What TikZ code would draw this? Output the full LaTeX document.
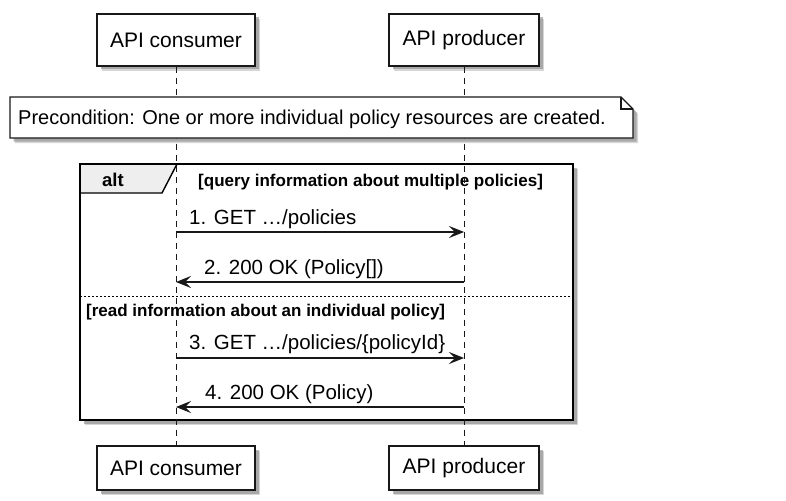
\documentclass[tikz,border=0pt]{standalone}
\usepackage{fontspec}
\setmainfont{Liberation Sans}
\usetikzlibrary{arrows.meta,shadows}
\definecolor{umlline}{HTML}{181818}
\definecolor{umlshadow}{HTML}{8A8A8A}
\definecolor{tabfill}{HTML}{EEEEEE}
\tikzset{
  umlshade/.style={drop shadow={shadow xshift=5pt,shadow yshift=-5pt,fill=umlshadow,opacity=0.35},
    drop shadow={shadow xshift=3.5pt,shadow yshift=-3.5pt,fill=umlshadow,opacity=0.6}},
  actorbox/.style={draw=umlline,fill=white,line width=1.2pt,inner sep=0pt,
    font=\fontsize{21}{25}\selectfont,umlshade},
  lifeline/.style={draw=umlline,line width=0.9pt,dash pattern=on 6pt off 5pt},
  msg/.style={draw=umlline,line width=1.2pt,-{Stealth[length=15pt,width=12pt,inset=6pt]}},
  msgtext/.style={anchor=west,inner sep=0pt,font=\fontsize{20.5}{24}\selectfont},
  guardtext/.style={anchor=west,inner sep=0pt,font=\bfseries\fontsize{17}{20}\selectfont},
}
\begin{document}
\begin{tikzpicture}[x=1pt,y=-1pt]
    \useasboundingbox (0,0) rectangle (786,500);

    % alt frame
    \draw[draw=black,fill=white,line width=2.8pt,umlshade] (80,164) rectangle (573,420);
    \draw[fill=tabfill,line width=1.4pt] (80,164) -- (177,164) -- (162,193) -- (80,193) -- cycle;
    \draw[draw=black,line width=2.8pt] (80,164) rectangle (573,420);
    \node[guardtext,font=\bfseries\fontsize{18.5}{22}\selectfont] (altlabel) at (102,180) {alt};
    \node[guardtext] (guardA) at (198,182) {[query information about multiple policies]};
    \draw[line width=0.8pt,dash pattern=on 2pt off 2pt] (80,296) -- (573,296);
    \node[guardtext] (guardB) at (86,312) {[read information about an individual policy]};

    % participants
    \node[actorbox,minimum width=158pt,minimum height=52pt] (consumerTop) at (176,40) {API consumer};
    \node[actorbox,minimum width=150pt,minimum height=52pt] (producerTop) at (464,40) {API producer};
    \node[actorbox,minimum width=158pt,minimum height=44pt] (consumerBottom) at (176,468) {API consumer};
    \node[actorbox,minimum width=150pt,minimum height=44pt] (producerBottom) at (464,468) {API producer};

    \draw[lifeline] (consumerTop) -- (consumerBottom);
    \draw[lifeline] (producerTop) -- (producerBottom);

    % precondition note
    \draw[draw=umlline,fill=white,line width=1.2pt,umlshade]
        (10,97) -- (621,97) -- (633,109) -- (633,138) -- (10,138) -- cycle;
    \draw[draw=umlline,line width=1.2pt] (621,97) -- (621,109) -- (633,109);
    \node[msgtext,font=\fontsize{20}{24}\selectfont] (precondition) at (18,119)
        {Precondition: One or more individual policy resources are created.};

    % messages
    \coordinate (c1) at (176,232); \coordinate (p1) at (464,232);
    \coordinate (c2) at (176,282); \coordinate (p2) at (464,282);
    \coordinate (c3) at (176,358); \coordinate (p3) at (464,358);
    \coordinate (c4) at (176,407); \coordinate (p4) at (464,407);

    \draw[msg] (c1) -- (p1);
    \node[msgtext] (m1) at (189,219) {1. GET \dots/policies};
    \draw[msg] (p2) -- (c2);
    \node[msgtext] (m2) at (204,269) {2. 200 OK (Policy[])};
    \draw[msg] (c3) -- (p3);
    \node[msgtext] (m3) at (189,344) {3. GET \dots/policies/\{policyId\}};
    \draw[msg] (p4) -- (c4);
    \node[msgtext] (m4) at (205,394) {4. 200 OK (Policy)};
\end{tikzpicture}
\end{document}
